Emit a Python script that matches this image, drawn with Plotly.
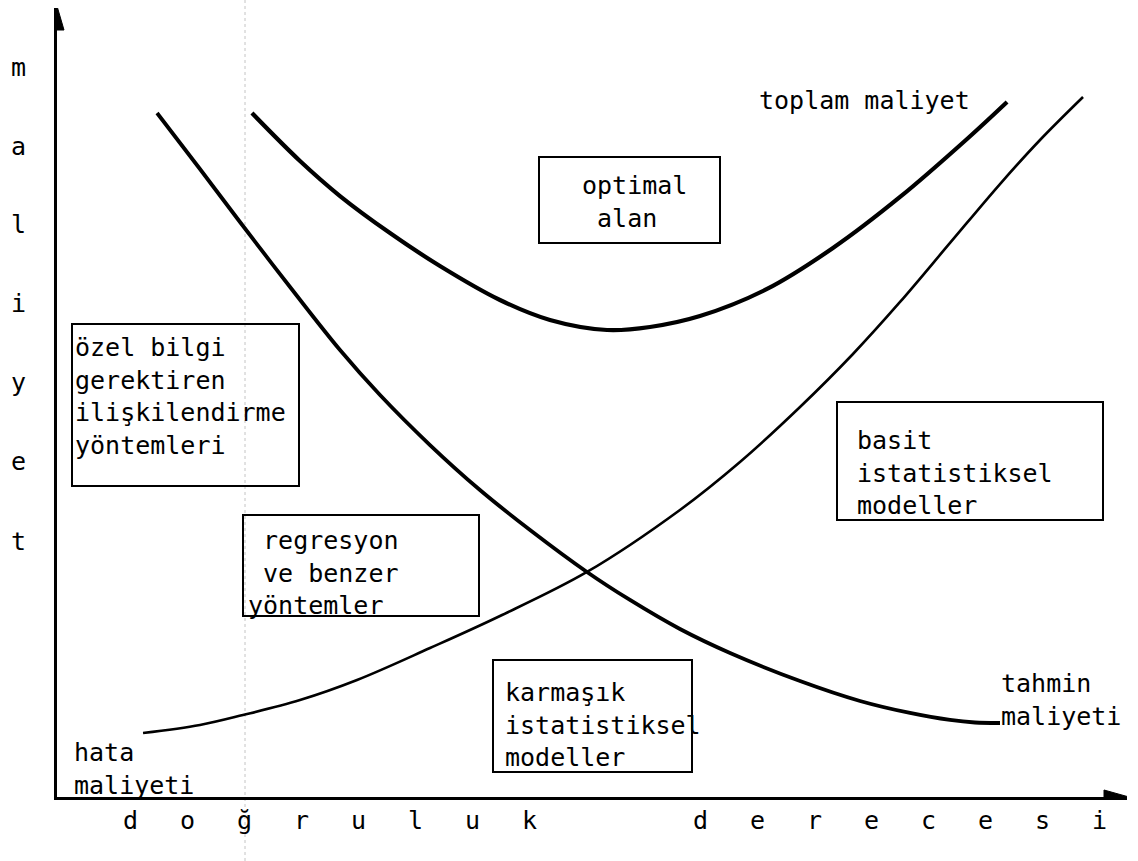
import plotly.graph_objects as go

# ---------------- data (accuracy on x, cost on y; both 0-100 axis units) ----------------
tahmin_x = [9.35, 13.36, 17.10, 21.78, 26.45, 30.19, 34.86, 39.53, 44.21, 49.53,
            53.55, 58.22, 62.90, 69.44, 75.05, 79.72, 83.46, 85.79, 88.13]
tahmin_y = [86.69, 79.59, 72.88, 64.64, 56.65, 50.95, 44.61, 38.91, 33.84, 28.52,
            24.97, 21.29, 18.25, 14.70, 12.17, 10.65, 9.76, 9.44, 9.38]

toplam_x = [18.22, 22.71, 26.45, 31.12, 35.79, 41.40, 46.07, 51.40, 55.42, 60.09,
            66.36, 72.52, 78.79, 85.05, 88.79]
toplam_y = [86.69, 80.61, 76.17, 71.48, 67.30, 62.99, 60.46, 59.19, 59.57, 60.96,
            64.39, 69.58, 76.05, 83.40, 88.09]

hata_x = [8.04, 13.36, 17.38, 22.71, 28.04, 34.86, 41.40, 49.53, 58.22, 63.83,
          69.44, 74.39, 78.79, 83.46, 88.13, 91.87, 95.89]
hata_y = [8.11, 9.13, 10.39, 12.29, 14.83, 18.88, 22.94, 28.52, 36.38, 42.46,
          49.43, 56.15, 62.74, 70.22, 77.69, 83.27, 88.72]

y_title_letters = ["m", "a", "l", "i", "y", "e", "t"]
x_title_letters = ["d", "o", "ğ", "r", "u", "l", "u", "k", "", "", "d", "e", "r", "e", "c", "e", "s", "i"]

box_texts = [
    "optimal<br>\u00a0alan",
    "özel bilgi<br>gerektiren<br>ilişkilendirme<br>yöntemleri",
    "\u00a0regresyon<br>\u00a0ve benzer<br>yöntemler",
    "karmaşık<br>istatistiksel<br>modeller",
    "basit<br>istatistiksel<br>modeller",
]
curve_labels = ["toplam maliyet", "tahmin<br>maliyeti", "hata<br>maliyeti"]

# ---------------- layout helpers (positions / styles) ----------------
W, H = 1138, 861
ML, MR, MT, MB = 57, 11, 8, 64
PW, PH = W - ML - MR, H - MT - MB
FONT = "DejaVu Sans Mono"
FS = 25


def px_x(px):
    return (px - ML) / PW * 100.0


def px_y(py):
    return (H - MB - py) / PH * 100.0


fig = go.Figure()

for xs, ys, w in [(tahmin_x, tahmin_y, 3.8), (toplam_x, toplam_y, 4.2), (hata_x, hata_y, 2.6)]:
    fig.add_trace(go.Scatter(
        x=xs, y=ys, mode="lines",
        line=dict(color="black", width=w, shape="spline", smoothing=1.0),
        hoverinfo="skip", showlegend=False,
    ))

shapes = []
# faint dotted vertical fold line
shapes.append(dict(type="line", xref="x", yref="paper", x0=px_x(245), x1=px_x(245),
                   y0=-MB / PH, y1=(PH + MT) / PH,
                   line=dict(color="#c4c4c4", width=1, dash="dot"), layer="below"))

# boxes (pixel rectangles -> axis units)
box_rects = [
    (539, 157, 720, 243),
    (72, 324, 299, 486),
    (243, 515, 479, 616),
    (493, 660, 692, 772),
    (837, 402, 1103, 520),
]
for (x0, y0, x1, y1) in box_rects:
    shapes.append(dict(type="rect", xref="x", yref="y",
                       x0=px_x(x0), x1=px_x(x1), y0=px_y(y1), y1=px_y(y0),
                       line=dict(color="black", width=2), fillcolor="rgba(0,0,0,0)"))

# arrow heads
shapes.append(dict(type="path", xref="x", yref="y",
                   path=f"M {px_x(57)} {px_y(6)} L {px_x(50)} {px_y(30)} L {px_x(64)} {px_y(30)} Z",
                   fillcolor="black", line=dict(color="black", width=1)))
shapes.append(dict(type="path", xref="x", yref="y",
                   path=f"M {px_x(1129)} {px_y(797)} L {px_x(1104)} {px_y(790)} L {px_x(1104)} {px_y(804)} Z",
                   fillcolor="black", line=dict(color="black", width=1)))

annotations = []
box_text_pos = [(580, 169), (73, 331), (246, 524), (503, 676), (855, 424)]
for txt, (tx, ty) in zip(box_texts, box_text_pos):
    annotations.append(dict(x=px_x(tx), y=px_y(ty), xref="x", yref="y", text=txt,
                            showarrow=False, xanchor="left", yanchor="top", align="left",
                            font=dict(family=FONT, size=FS, color="black")))

label_pos = [(757, 84), (999, 667), (72, 736)]
for txt, (tx, ty) in zip(curve_labels, label_pos):
    annotations.append(dict(x=px_x(tx), y=px_y(ty), xref="x", yref="y", text=txt,
                            showarrow=False, xanchor="left", yanchor="top", align="left",
                            font=dict(family=FONT, size=FS, color="black")))

for i, ch in enumerate(y_title_letters):
    annotations.append(dict(x=(18 - ML) / PW, y=(H - MB - (67 + 79 * i)) / PH,
                            xref="paper", yref="paper", text=ch, showarrow=False,
                            xanchor="center", yanchor="middle",
                            font=dict(family=FONT, size=FS, color="black")))

for i, ch in enumerate(x_title_letters):
    if not ch:
        continue
    annotations.append(dict(x=(130 + 57 * i - ML) / PW, y=(H - MB - 820) / PH,
                            xref="paper", yref="paper", text=ch, showarrow=False,
                            xanchor="center", yanchor="middle",
                            font=dict(family=FONT, size=FS, color="black")))

axis_style = dict(range=[0, 100], showgrid=False, zeroline=False, showticklabels=False,
                  ticks="", showline=True, linecolor="black", linewidth=3, fixedrange=True)

fig.update_layout(
    width=W, height=H,
    margin=dict(l=ML, r=MR, t=MT, b=MB, pad=0),
    paper_bgcolor="white", plot_bgcolor="white",
    xaxis=axis_style, yaxis=axis_style,
    shapes=shapes, annotations=annotations,
    showlegend=False,
)

fig.write_html("out.html", post_script="document.body.style.margin='0';",
               config={"displayModeBar": False})
